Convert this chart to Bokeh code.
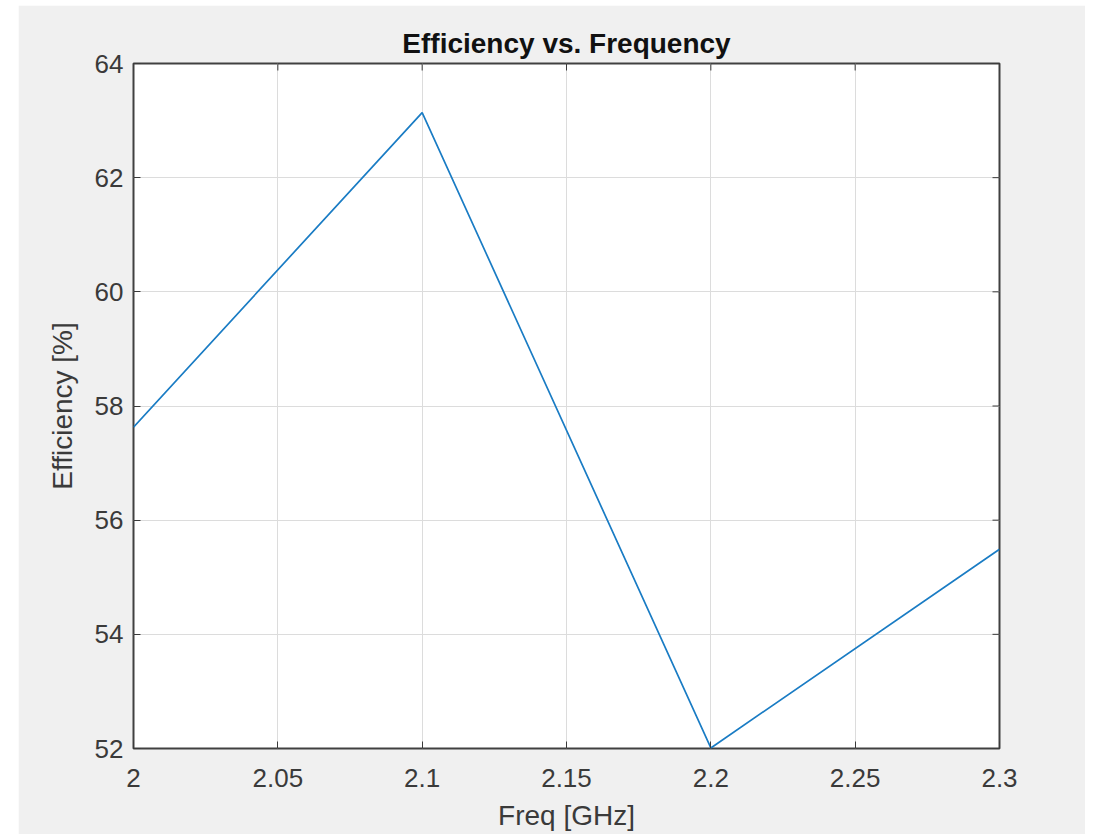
import math
from bokeh.plotting import figure
from bokeh.models import FixedTicker, Range1d
from bokeh.embed import file_html
from bokeh.resources import INLINE

freq_ghz = [2.0, 2.1, 2.2, 2.3]
efficiency_pct = [57.63, 63.14, 52.01, 55.49]
x_ticks = [2.0, 2.05, 2.1, 2.15, 2.2, 2.25, 2.3]
y_ticks = [52, 54, 56, 58, 60, 62, 64]

FONT = "Liberation Sans"
DARK = "#3a3a3a"
BG = "#f0f0f0"
X_MIN, X_MAX = 2.0, 2.3
Y_MIN, Y_MAX = 52, 64

p = figure(width=1067, height=829, output_backend="svg", toolbar_location=None,
           x_range=Range1d(X_MIN, X_MAX), y_range=Range1d(Y_MIN, Y_MAX),
           title="Efficiency vs. Frequency",
           min_border_left=115, min_border_right=86, min_border_top=58, min_border_bottom=86)
p.margin = (5, 9, 0, 18)
p.background_fill_color = "white"
p.border_fill_color = BG
p.outline_line_color = "#404040"
p.outline_line_width = 2

p.title.text_font = FONT
p.title.text_font_size = "28px"
p.title.text_font_style = "bold"
p.title.text_color = "#111111"
p.title.align = "center"

for g in (p.xgrid[0], p.ygrid[0]):
    g.grid_line_color = "#dcdcdc"
    g.grid_line_width = 1
p.xgrid[0].ticker = FixedTicker(ticks=x_ticks)
p.ygrid[0].ticker = FixedTicker(ticks=y_ticks)

p.line(freq_ghz, efficiency_pct, line_color="#1a7cc4", line_width=1.7)

# ticks on the top and right edges of the box (inward, clipped by the frame)
p.scatter(x_ticks, [Y_MAX] * len(x_ticks), marker="dash", size=14, angle=math.pi / 2,
          line_color=DARK, line_width=1)
p.scatter([X_MAX] * len(y_ticks), y_ticks, marker="dash", size=14,
          line_color=DARK, line_width=1)

for ax in (p.xaxis[0], p.yaxis[0]):
    ax.axis_line_color = None
    ax.major_tick_line_color = DARK
    ax.major_tick_in = 7
    ax.major_tick_out = 0
    ax.minor_tick_line_color = None
    ax.major_label_text_font = FONT
    ax.major_label_text_font_size = "26px"
    ax.major_label_text_color = DARK
    ax.axis_label_text_font = FONT
    ax.axis_label_text_font_size = "28px"
    ax.axis_label_text_font_style = "normal"
    ax.axis_label_text_color = DARK

p.xaxis[0].ticker = FixedTicker(ticks=x_ticks)
p.yaxis[0].ticker = FixedTicker(ticks=y_ticks)
p.xaxis[0].major_label_overrides = {2.0: "2", 2.1: "2.1", 2.2: "2.2", 2.3: "2.3"}
p.xaxis[0].axis_label = "Freq [GHz]"
p.yaxis[0].axis_label = "Efficiency [%]"
p.xaxis[0].major_label_standoff = 20
p.yaxis[0].major_label_standoff = 10
p.xaxis[0].axis_label_standoff = 10
p.yaxis[0].axis_label_standoff = 14

open("out.html", "w").write(file_html(p, INLINE))
